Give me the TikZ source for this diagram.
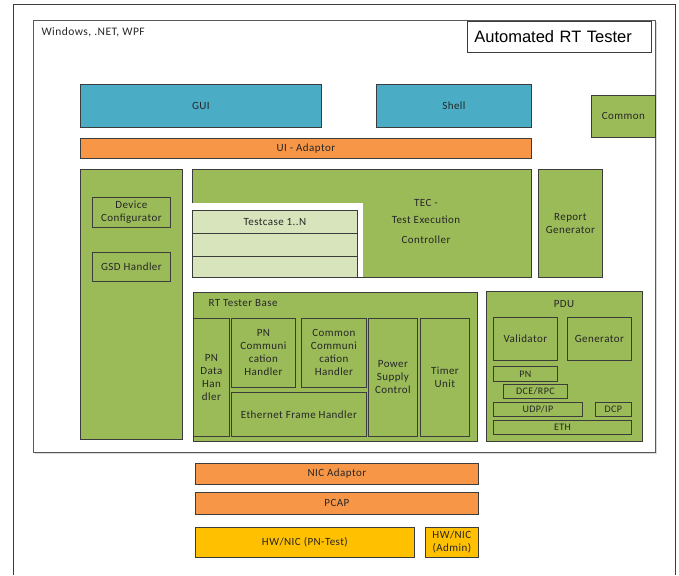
\documentclass[tikz,border=0pt]{standalone}
\usepackage{fontspec}
\setmainfont{Carlito}
\newfontfamily\titlefont{Liberation Sans}
\newfontfamily\boxfont[LetterSpace=4]{Carlito}
\definecolor{aqua}{HTML}{4BACC6}
\definecolor{tangerine}{HTML}{F79646}
\definecolor{olive}{HTML}{9BBB59}
\definecolor{amber}{HTML}{FFC000}
\definecolor{pale}{HTML}{D8E4BC}
\definecolor{ink}{HTML}{262626}
\definecolor{edge}{HTML}{3C3C3C}
\tikzset{
  x=1pt, y=-1pt,
  blkbase/.style={draw=edge, line width=0.8pt, inner sep=0pt, align=center,
    text=ink, font=\boxfont\fontsize{11}{13}\selectfont, anchor=north west},
  uiblk/.style={blkbase, fill=aqua},
  adapt/.style={blkbase, fill=tangerine},
  modul/.style={blkbase, fill=olive},
  hwblk/.style={blkbase, fill=amber},
  rowblk/.style={blkbase, fill=pale},
  small/.style={font=\boxfont\fontsize{10}{11}\selectfont},
}
% \blk{name}{style}{x1}{y1}{x2}{y2}{text}: box from corner (x1,y1) to (x2,y2)
\newcommand\blk[7]{%
  \node[#2, minimum width={(#5)-(#3)}, minimum height={(#6)-(#4)}] (#1) at (#3,#4) {#7};}
\begin{document}
\begin{tikzpicture}
\useasboundingbox (0,0) rectangle (679,575);
% outer frame, open towards the bottom
\coordinate (obl) at (13,575);
\coordinate (otl) at (13,4);
\coordinate (otr) at (675,4);
\coordinate (obr) at (675,575);
\draw[edge, line width=0.9pt] (obl) -- (otl) -- (otr) -- (obr);
% platform frame with a faint shadow
\draw[gray!30, line width=1.4pt] (35,453.5) -- (656.5,453.5) -- (656.5,22);
\node[draw=gray!70!black, line width=0.9pt, fill=white, minimum width=622, minimum height=432,
  anchor=north west, inner sep=0pt] (platform) at (33,20) {};
\node[anchor=west, text=ink, font=\boxfont\fontsize{11.5}{13}\selectfont] (os) at (38,32) {Windows, .NET, WPF};
\node[draw=edge, line width=0.7pt, fill=white, anchor=north west, minimum width=184, minimum height=31,
  inner sep=0pt, text width=170, align=left, font=\titlefont\fontsize{16.5}{18}\selectfont, text=black] (title) at (467,21) {Automated RT Tester};

% user interface layer
\blk{gui}{uiblk}{80}{84}{321}{127}{GUI}
\blk{shell}{uiblk}{376}{84}{531}{127}{Shell}
\blk{common}{modul}{591}{95}{655}{137}{Common}
\blk{uiadapt}{adapt}{80}{138}{531}{158}{UI - Adaptor}

% device configuration column
\blk{devcol}{modul}{80}{169}{182}{439}{}
\blk{devconf}{modul}{92}{197}{170}{227}{Device\\Configurator}
\blk{gsd}{modul}{92}{252}{170}{281}{GSD Handler}

% test execution controller with its test cases
\blk{tec}{modul}{192}{169}{531}{277}{}
\fill[white] (192,203) rectangle (363,277.4);
\blk{tc1}{rowblk}{192}{210}{357}{233}{Testcase 1..N}
\blk{tc2}{rowblk}{192}{233}{357}{256}{}
\blk{tc3}{rowblk}{192}{256}{357}{277}{}
\node[align=center, text=ink, font=\boxfont\fontsize{11}{18}\selectfont] (tectext) at (426,221)
  {TEC -\\[-1pt]Test Execution\\[2pt]Controller};
\blk{report}{modul}{538}{169}{602}{277}{Report\\Generator}

% RT tester base
\blk{rtbase}{modul}{193}{292}{477}{441}{}
\node[anchor=west, text=ink, font=\boxfont\fontsize{11}{13}\selectfont] (rtlabel) at (205,303) {RT Tester Base};
\blk{pndata}{modul}{193}{318}{229}{436}{PN\\Data\\Han\\dler}
\blk{pncomm}{modul}{231}{318}{295}{387}{PN\\Communi\\cation\\Handler}
\blk{cmcomm}{modul}{301}{318}{366}{387}{Common\\Communi\\cation\\Handler}
\blk{ethframe}{modul}{231}{392}{366}{436}{Ethernet Frame Handler}
\blk{power}{modul}{368}{318}{417}{436}{Power\\Supply\\Control}
\blk{timer}{modul}{420}{318}{469}{436}{Timer\\Unit}

% protocol data units
\blk{pdu}{modul}{486}{291}{642}{441}{}
\node[text=ink, font=\boxfont\fontsize{11}{13}\selectfont] (pdulabel) at (564,304) {PDU};
\blk{validator}{modul}{493}{317}{557}{360}{Validator}
\blk{generator}{modul}{567}{317}{631}{360}{Generator}
\blk{pn}{modul,small}{493}{366}{557}{381}{PN}
\blk{dcerpc}{modul,small}{503}{384}{567}{398}{DCE/RPC}
\blk{udpip}{modul,small}{493}{402}{582}{416}{UDP/IP}
\blk{dcp}{modul,small}{595}{402}{631}{416}{DCP}
\blk{eth}{modul,small}{493}{420}{631}{434}{ETH}

% network access below the platform
\blk{nicadapt}{adapt}{195}{463}{478}{484}{NIC Adaptor}
\blk{pcap}{adapt}{195}{492}{478}{514}{PCAP}
\blk{hwtest}{hwblk}{195}{527}{414}{557}{HW/NIC (PN-Test)}
\blk{hwadmin}{hwblk}{425}{527}{478}{557}{HW/NIC\\(Admin)}
\end{tikzpicture}
\end{document}
